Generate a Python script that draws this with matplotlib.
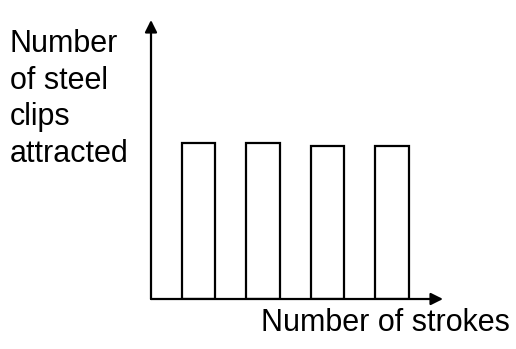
import matplotlib.pyplot as plt

# bar data (arbitrary units)
strokes = [1, 2, 3, 4]
clips = [10, 10, 9.8, 9.8]

ylabel_text = "Number\nof steel\nclips\nattracted"
xlabel_text = "Number of strokes"

plt.rcParams['font.family'] = ['Liberation Sans', 'DejaVu Sans']

fig = plt.figure(figsize=(5.16, 3.49), dpi=100)
ax = fig.add_axes([151 / 516, 50 / 349, 292 / 516, 279 / 349])

ax.bar(strokes, clips, width=0.52, facecolor='white', edgecolor='black', linewidth=1.6)

ax.set_xlim(0.267, 4.79)
ax.set_ylim(0, 17.9)
for s in ax.spines.values():
    s.set_visible(False)
ax.set_xticks([])
ax.set_yticks([])

# axes with arrow heads
arrow = dict(arrowstyle='-|>', color='black', lw=1.6, mutation_scale=18, shrinkA=0, shrinkB=0)
ax.annotate('', xy=(0, 1), xytext=(0, 0), xycoords='axes fraction', arrowprops=arrow)
ax.annotate('', xy=(1, 0), xytext=(0, 0), xycoords='axes fraction', arrowprops=arrow)

fig.text(10 / 516, 1 - 29 / 349, ylabel_text, ha='left', va='top', fontsize=22, linespacing=1.29)
fig.text(510 / 516, 1 - 323 / 349, xlabel_text, ha='right', va='center', fontsize=22)

fig.savefig('out.png', dpi=100)
